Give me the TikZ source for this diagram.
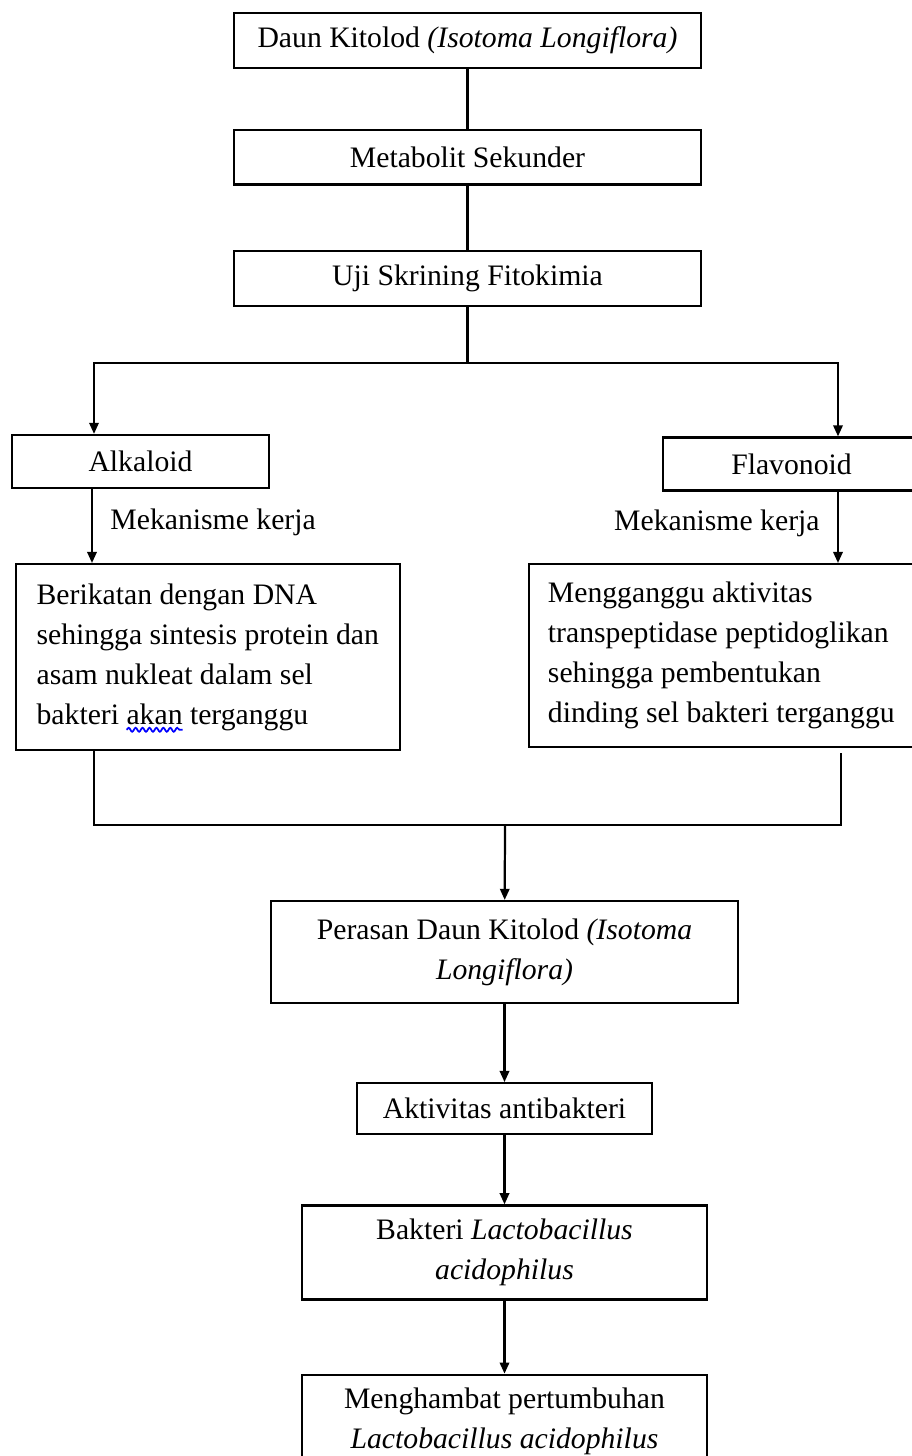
\documentclass[tikz,border=0pt]{standalone}
\usepackage{fontspec}
\setmainfont{Liberation Serif}
\usetikzlibrary{arrows.meta,positioning,decorations.pathmorphing}
\newcommand{\gelombang}[1]{\setbox0\hbox{#1}\rlap{\tikz[baseline=0pt,overlay]\draw[blue,line width=0.7pt,decorate,decoration={snake,amplitude=0.8pt,segment length=2.8pt}] (0pt,-2.2pt) -- (\wd0,-2.2pt);}#1}

\begin{document}
\begin{tikzpicture}[x=0.404pt,y=-0.404pt,node distance=25pt,
  box/.style={draw,line width=0.9pt,align=center,inner sep=3pt,font=\fontsize{12}{16.2}\selectfont},
  top/.style={box,minimum width=188.7pt,minimum height=22.2pt},
  jenis/.style={box,minimum width=103.8pt,minimum height=21.4pt},
  mekanisme/.style={box,align=left,minimum width=155.3pt,minimum height=75.1pt},
  hasil/.style={box,minimum width=163.6pt},
  lbl/.style={font=\fontsize{12}{16.2}\selectfont,inner sep=0pt},
  arr/.style={-{Triangle[length=4.5pt,width=3.8pt]},line width=0.9pt},
  ln/.style={line width=0.9pt}]
\useasboundingbox (0,0) rectangle (912,1456);
\clip (0,0) rectangle (912,1456);
% alur atas
\node[top] (daun) at (467.5,40.5) {Daun Kitolod \textit{(Isotoma Longiflora)}};
\node[top,below=24pt of daun] (metab) {Metabolit Sekunder};
\node[top,below=26pt of metab] (uji) {Uji Skrining Fitokimia};
% dua senyawa
\node[jenis] (alka) at (140.5,461.5) {Alkaloid};
\node[jenis] (flav) at (791.5,464) {Flavonoid};
\node[mekanisme,anchor=north west] (berik) at (14.5,563) {Berikatan dengan DNA\\ sehingga sintesis protein dan\\ asam nukleat dalam sel\\ bakteri \gelombang{akan} terganggu};
\node[mekanisme,anchor=north west,minimum height=73.9pt] (meng) at (528,563) {Mengganggu aktivitas\\ transpeptidase peptidoglikan\\ sehingga pembentukan\\ dinding sel bakteri terganggu};
% alur bawah
\node[box,minimum width=188.7pt,minimum height=41.2pt] (peras) at (504.5,952) {Perasan Daun Kitolod \textit{(Isotoma}\\ \textit{Longiflora)}};
\node[box,minimum width=119.2pt,minimum height=20.6pt,below=31.5pt of peras] (aktiv) {Aktivitas antibakteri};
\node[hasil,minimum height=38pt,below=27.9pt of aktiv] (bakt) {Bakteri \textit{Lactobacillus}\\ \textit{acidophilus}};
\node[hasil,minimum height=37.6pt,below=29.5pt of bakt] (hambat) {Menghambat pertumbuhan\\ \textit{Lactobacillus acidophilus}};
% cabang
\coordinate (pisah) at (467.5,363);
\coordinate (kiri) at (94,363);
\coordinate (kanan) at (838,363);
\coordinate (gabung) at (505,825);
\draw[ln] (daun) -- (metab);
\draw[ln] (metab) -- (uji);
\draw[ln] (uji.south) -- (pisah);
\draw[arr] (pisah) -- (kiri) -- (kiri |- alka.north);
\draw[arr] (pisah) -- (kanan) -- (kanan |- flav.north);
\draw[arr] (alka.south -| 92,0) -- node[lbl,right=7pt,pos=0.45]{Mekanisme kerja} (berik.north -| 92,0);
\draw[arr] (flav.south -| kanan) -- node[lbl,left=7pt,pos=0.45]{Mekanisme kerja} (meng.north -| kanan);
\draw[ln] (berik.south -| kiri) |- (gabung);
\draw[ln] ([yshift=-2pt]meng.south -| 841,0) |- (gabung);
\draw[arr] (gabung) -- (peras);
\draw[arr] (peras) -- (aktiv);
\draw[arr] (aktiv) -- (bakt);
\draw[arr] (bakt) -- (hambat);
\end{tikzpicture}
\end{document}
